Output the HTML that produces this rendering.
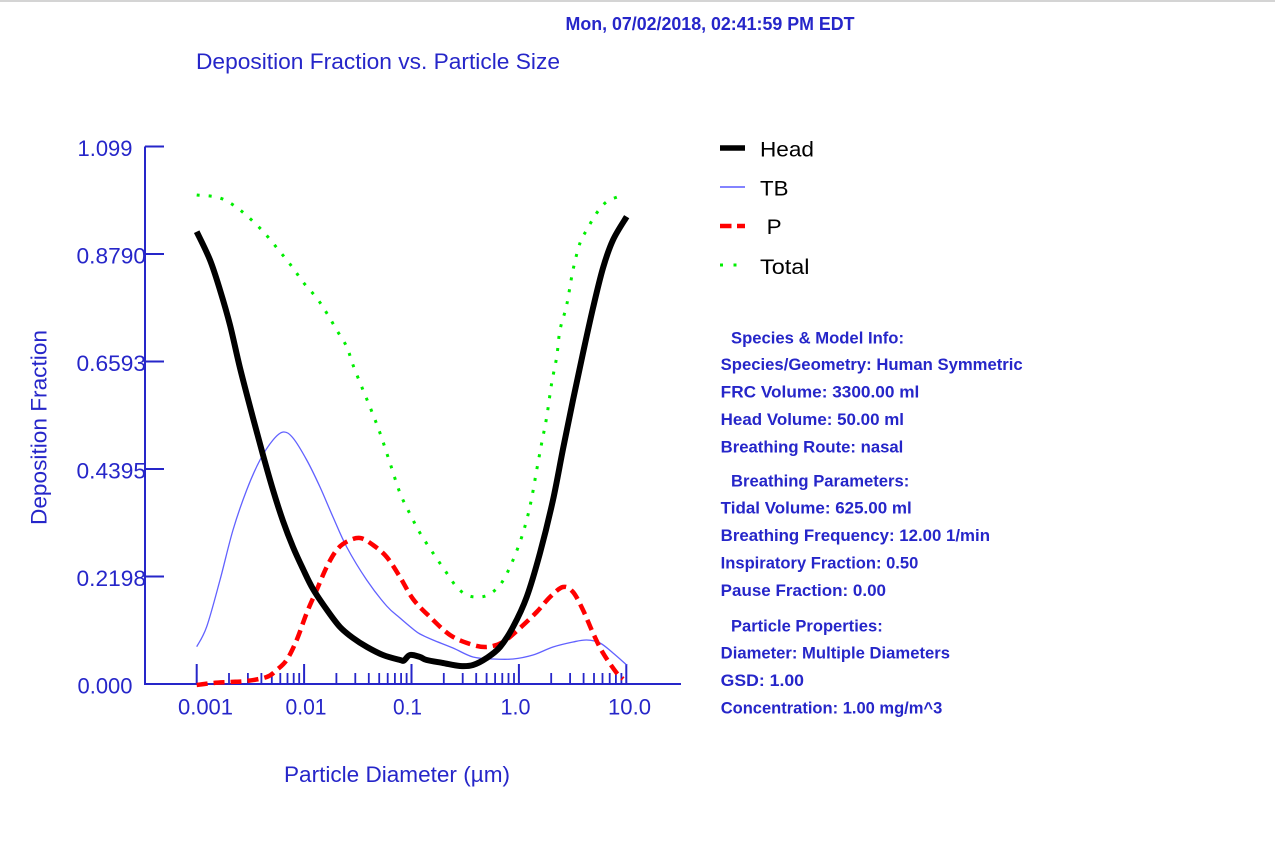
<!DOCTYPE html>
<html>
<head>
<meta charset="utf-8">
<style>
html,body{margin:0;padding:0;background:#fff;}
body{width:1275px;height:859px;overflow:hidden;}
svg{display:block;}
text{font-family:"Liberation Sans",Arial,sans-serif;fill:#2626c9;}
.b{font-weight:bold;}
</style>
</head>
<body>
<svg id="chart" width="1275" height="859" viewBox="0 0 1275 859" xmlns="http://www.w3.org/2000/svg">
<rect x="0" y="0" width="1275" height="859" fill="#ffffff"/>
<rect x="0" y="0" width="1275" height="2" fill="#d4d4d4"/>

<!-- date & title -->
<text class="b" x="565.5" y="30" font-size="18" textLength="289" lengthAdjust="spacingAndGlyphs">Mon, 07/02/2018, 02:41:59 PM EDT</text>
<text x="196" y="69" font-size="22.6" textLength="364" lengthAdjust="spacingAndGlyphs">Deposition Fraction vs. Particle Size</text>

<!-- axes -->
<g stroke="#2626c9" stroke-width="2" fill="none">
  <line x1="145" y1="146.5" x2="145" y2="684.5"/>
  <line x1="144" y1="684" x2="681" y2="684"/>
  <line x1="145" y1="146.5" x2="164" y2="146.5"/>
  <line x1="145" y1="254" x2="164" y2="254"/>
  <line x1="145" y1="361.5" x2="164" y2="361.5"/>
  <line x1="145" y1="469" x2="164" y2="469"/>
  <line x1="145" y1="576.5" x2="164" y2="576.5"/>
  <line x1="196.7" y1="684" x2="196.7" y2="664"/>
  <line x1="304.1" y1="684" x2="304.1" y2="664"/>
  <line x1="411.5" y1="684" x2="411.5" y2="664"/>
  <line x1="518.9" y1="684" x2="518.9" y2="664"/>
  <line x1="626.3" y1="684" x2="626.3" y2="664"/>
</g>
<g stroke="#2626c9" stroke-width="1.8" fill="none">
  <line x1="229.0" y1="684" x2="229.0" y2="673"/>
  <line x1="247.9" y1="684" x2="247.9" y2="673"/>
  <line x1="261.4" y1="684" x2="261.4" y2="673"/>
  <line x1="271.8" y1="684" x2="271.8" y2="673"/>
  <line x1="280.3" y1="684" x2="280.3" y2="673"/>
  <line x1="287.5" y1="684" x2="287.5" y2="673"/>
  <line x1="293.7" y1="684" x2="293.7" y2="673"/>
  <line x1="299.2" y1="684" x2="299.2" y2="673"/>
  <line x1="336.4" y1="684" x2="336.4" y2="673"/>
  <line x1="355.3" y1="684" x2="355.3" y2="673"/>
  <line x1="368.8" y1="684" x2="368.8" y2="673"/>
  <line x1="379.2" y1="684" x2="379.2" y2="673"/>
  <line x1="387.7" y1="684" x2="387.7" y2="673"/>
  <line x1="394.9" y1="684" x2="394.9" y2="673"/>
  <line x1="401.1" y1="684" x2="401.1" y2="673"/>
  <line x1="406.6" y1="684" x2="406.6" y2="673"/>
  <line x1="443.8" y1="684" x2="443.8" y2="673"/>
  <line x1="462.7" y1="684" x2="462.7" y2="673"/>
  <line x1="476.2" y1="684" x2="476.2" y2="673"/>
  <line x1="486.6" y1="684" x2="486.6" y2="673"/>
  <line x1="495.1" y1="684" x2="495.1" y2="673"/>
  <line x1="502.3" y1="684" x2="502.3" y2="673"/>
  <line x1="508.5" y1="684" x2="508.5" y2="673"/>
  <line x1="514.0" y1="684" x2="514.0" y2="673"/>
  <line x1="551.2" y1="684" x2="551.2" y2="673"/>
  <line x1="570.1" y1="684" x2="570.1" y2="673"/>
  <line x1="583.6" y1="684" x2="583.6" y2="673"/>
  <line x1="594.0" y1="684" x2="594.0" y2="673"/>
  <line x1="602.5" y1="684" x2="602.5" y2="673"/>
  <line x1="609.7" y1="684" x2="609.7" y2="673"/>
  <line x1="615.9" y1="684" x2="615.9" y2="673"/>
  <line x1="621.4" y1="684" x2="621.4" y2="673"/>
</g>

<!-- y tick labels -->
<g font-size="22.5">
  <text x="77.5" y="156" textLength="55" lengthAdjust="spacingAndGlyphs">1.099</text>
  <text x="76.5" y="263.5" textLength="69.5" lengthAdjust="spacingAndGlyphs">0.8790</text>
  <text x="76.5" y="371" textLength="69.5" lengthAdjust="spacingAndGlyphs">0.6593</text>
  <text x="76.5" y="478.5" textLength="69.5" lengthAdjust="spacingAndGlyphs">0.4395</text>
  <text x="76.5" y="586" textLength="69.5" lengthAdjust="spacingAndGlyphs">0.2198</text>
  <text x="77.5" y="693.5" textLength="55" lengthAdjust="spacingAndGlyphs">0.000</text>
</g>

<!-- x tick labels -->
<g font-size="22">
  <text x="178" y="714.3" textLength="55" lengthAdjust="spacingAndGlyphs">0.001</text>
  <text x="285.5" y="714.3" textLength="41" lengthAdjust="spacingAndGlyphs">0.01</text>
  <text x="393" y="714.3" textLength="29" lengthAdjust="spacingAndGlyphs">0.1</text>
  <text x="500.5" y="714.3" textLength="30" lengthAdjust="spacingAndGlyphs">1.0</text>
  <text x="608" y="714.3" textLength="43" lengthAdjust="spacingAndGlyphs">10.0</text>
</g>

<!-- axis titles -->
<text x="284" y="782" font-size="22.6" textLength="226" lengthAdjust="spacingAndGlyphs">Particle Diameter (µm)</text>
<text transform="translate(46.5,525) rotate(-90)" x="0" y="0" font-size="22.6" textLength="195" lengthAdjust="spacingAndGlyphs">Deposition Fraction</text>

<!-- series -->
<polyline class="smooth" fill="none" stroke="#5050ff" stroke-width="1.3" stroke-opacity="0.9" stroke-linejoin="round"
 points="196.7,646.7 206.7,626.7 220,580 233,530 246.7,490 260,460 273,440 283.3,432 293,438 306.7,460 320,487 333,517 346.7,547 366.7,580 386.7,606 400,618 413,629 420,634 433,640 453,648 473,657 493,659 513,659 533,655 553,647 573,642 586.7,640 600,643 613,653 626.7,665"/>

<polyline class="smooth" fill="none" stroke="#ff0000" stroke-width="4.5" stroke-dasharray="11 6" stroke-linejoin="round"
 points="196.7,685 213,683 230,682 246.7,681 266.7,677 276.7,670 286.7,660 296.7,640 306.7,613 316.7,590 326.7,567 336.7,550 346.7,541.7 360,538 373,545 386.7,557 400,577 413,599 430,617 450,635 470,644 486.7,647 503,642 520,628 536.7,612 550,597 563,587 573,592 583,610 593,633 603,653 616.7,673 623,679"/>

<polyline class="smooth" fill="none" stroke="#00ee00" stroke-width="3" stroke-dasharray="3 9"
 points="196.7,195 220,198 240,210 261.7,230 280,251.7 293,268 303,282 316.7,298 326.7,313 336.7,330 346.7,346.7 353,365 363,390 370,407 380,433 390,463 400,493 410,514 420,533 433,553 446.7,573 456.7,587 466.7,595 476.7,597 488,595 500,585 510,567 520,542 526.7,520 531.7,498 536.7,470 541.7,443 546.7,417 551.7,383 556.7,357 560,330 566.7,305 573,270 580,243 586.7,230 596.7,213 606.7,201.7 618,196.7"/>

<polyline class="smooth" fill="none" stroke="#000000" stroke-width="6" stroke-linejoin="round"
 points="196.7,231.7 210,260 220,290 230,325 240,368 251.7,413 263,455 273,490 283,521 293,547 303,569 313,589 327,610 340,627 353,638 367,647 383,655 400,660 404,660.5 410,655 420,657 426.7,660 443,663 460,666 473,665 486.7,658 500,647 513,627 526.7,597 540,553 553,500 563,449 573,400 583,353 593,308 603,268 613,240 626.7,216.7"/>

<!-- legend -->
<line x1="720" y1="148" x2="745" y2="148" stroke="#000" stroke-width="5.5"/>
<line x1="720" y1="187" x2="745" y2="187" stroke="#5a5aff" stroke-width="1.6"/>
<line x1="720" y1="226" x2="731.5" y2="226" stroke="#ff0000" stroke-width="4.5"/>
<line x1="737" y1="226" x2="745" y2="226" stroke="#ff0000" stroke-width="4.5"/>
<rect x="720" y="263.5" width="3" height="3" fill="#00ee00"/>
<rect x="733.5" y="263.5" width="3" height="3" fill="#00ee00"/>
<g font-size="21.5">
  <text x="760" y="156.7" textLength="54" lengthAdjust="spacingAndGlyphs" style="fill:#000">Head</text>
  <text x="760" y="195.7" textLength="28.5" lengthAdjust="spacingAndGlyphs" style="fill:#000">TB</text>
  <text x="766.7" y="234" textLength="15" lengthAdjust="spacingAndGlyphs" style="fill:#000">P</text>
  <text x="760" y="274" textLength="49.5" lengthAdjust="spacingAndGlyphs" style="fill:#000">Total</text>
</g>

<!-- info -->
<g font-size="16.5">
  <text class="b" x="731" y="343.3" textLength="173" lengthAdjust="spacingAndGlyphs">Species &amp; Model Info:</text>
  <text class="b" x="720.7" y="370" textLength="302" lengthAdjust="spacingAndGlyphs">Species/Geometry: Human Symmetric</text>
  <text class="b" x="720.7" y="397.5" textLength="198.6" lengthAdjust="spacingAndGlyphs">FRC Volume: 3300.00 ml</text>
  <text class="b" x="720.7" y="425" textLength="183.3" lengthAdjust="spacingAndGlyphs">Head Volume: 50.00 ml</text>
  <text class="b" x="720.7" y="452.3" textLength="182.6" lengthAdjust="spacingAndGlyphs">Breathing Route: nasal</text>
  <text class="b" x="731" y="486.7" textLength="178.3" lengthAdjust="spacingAndGlyphs">Breathing Parameters:</text>
  <text class="b" x="720.7" y="513.5" textLength="191" lengthAdjust="spacingAndGlyphs">Tidal Volume: 625.00 ml</text>
  <text class="b" x="720.7" y="541" textLength="269.3" lengthAdjust="spacingAndGlyphs">Breathing Frequency: 12.00 1/min</text>
  <text class="b" x="720.7" y="568.5" textLength="197.6" lengthAdjust="spacingAndGlyphs">Inspiratory Fraction: 0.50</text>
  <text class="b" x="720.7" y="596" textLength="165.3" lengthAdjust="spacingAndGlyphs">Pause Fraction: 0.00</text>
  <text class="b" x="731" y="631.7" textLength="151.7" lengthAdjust="spacingAndGlyphs">Particle Properties:</text>
  <text class="b" x="720.7" y="658.5" textLength="229.3" lengthAdjust="spacingAndGlyphs">Diameter: Multiple Diameters</text>
  <text class="b" x="720.7" y="686" textLength="83.3" lengthAdjust="spacingAndGlyphs">GSD: 1.00</text>
  <text class="b" x="720.7" y="713.3" textLength="221.6" lengthAdjust="spacingAndGlyphs">Concentration: 1.00 mg/m^3</text>
</g>
</svg>
<script>
(function(){
  try{
    var NS="http://www.w3.org/2000/svg";
    var pls=document.querySelectorAll("polyline.smooth");
    for(var i=0;i<pls.length;i++){
      var pl=pls[i];
      var raw=pl.getAttribute("points").trim().split(/\s+/);
      var p=[];
      for(var j=0;j<raw.length;j++){var xy=raw[j].split(",");p.push([parseFloat(xy[0]),parseFloat(xy[1])]);}
      if(p.length<3) continue;
      var d="M"+p[0][0]+","+p[0][1];
      var t=0.5;
      for(var k=0;k<p.length-1;k++){
        var p0=p[k>0?k-1:0],p1=p[k],p2=p[k+1],p3=p[k+2<p.length?k+2:p.length-1];
        var c1x=p1[0]+(p2[0]-p0[0])*t/3,c1y=p1[1]+(p2[1]-p0[1])*t/3;
        var c2x=p2[0]-(p3[0]-p1[0])*t/3,c2y=p2[1]-(p3[1]-p1[1])*t/3;
        d+=" C"+c1x.toFixed(2)+","+c1y.toFixed(2)+" "+c2x.toFixed(2)+","+c2y.toFixed(2)+" "+p2[0]+","+p2[1];
      }
      var path=document.createElementNS(NS,"path");
      var attrs=pl.attributes;
      for(var a=0;a<attrs.length;a++){
        var n=attrs[a].name;
        if(n!=="points"&&n!=="class") path.setAttribute(n,attrs[a].value);
      }
      path.setAttribute("d",d);
      pl.parentNode.replaceChild(path,pl);
    }
  }catch(e){}
})();
</script>
</body>
</html>
